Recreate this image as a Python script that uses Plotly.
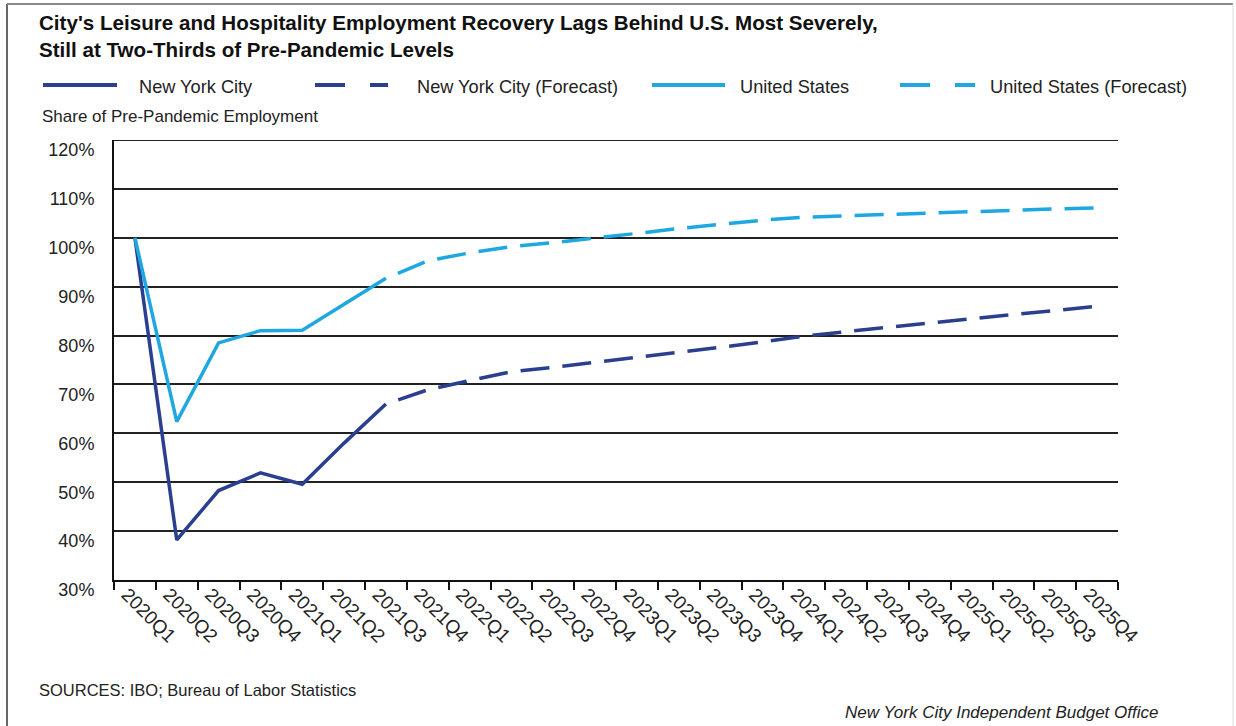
import plotly.graph_objects as go

quarters = ["2020Q1", "2020Q2", "2020Q3", "2020Q4", "2021Q1", "2021Q2", "2021Q3", "2021Q4",
            "2022Q1", "2022Q2", "2022Q3", "2022Q4", "2023Q1", "2023Q2", "2023Q3", "2023Q4",
            "2024Q1", "2024Q2", "2024Q3", "2024Q4", "2025Q1", "2025Q2", "2025Q3", "2025Q4"]

nyc_actual_q = quarters[:7]
nyc_actual = [100, 38.2, 48.3, 51.9, 49.6, 58.0, 66.0]
nyc_forecast_q = quarters[6:]
nyc_forecast = [66.0, 68.9, 70.8, 72.6, 73.5, 74.5, 75.5, 76.5, 77.6, 78.7, 79.9, 80.8,
                81.7, 82.6, 83.4, 84.3, 85.1, 86.0]

us_actual_q = quarters[:7]
us_actual = [100, 62.4, 78.5, 81.0, 81.1, 86.5, 91.7]
us_forecast_q = quarters[6:]
us_forecast = [91.7, 95.3, 96.9, 98.2, 99.0, 99.9, 100.9, 101.9, 102.8, 103.6, 104.2, 104.5,
               104.8, 105.1, 105.4, 105.7, 105.9, 106.1]

y_min, y_max = 30, 120

NYC_COLOR = "#2a3f8f"
US_COLOR = "#1ea7e0"
FONT = "Arial, Liberation Sans, sans-serif"
TXT = "#222222"

W, H = 1236, 726
L, R, T, B = 114, 118, 140, 146
PW, PH = W - L - R, H - T - B


def px(x):
    return (x - L) / PW


def py(y):
    return (H - B - y) / PH


fig = go.Figure()
fig.add_trace(go.Scatter(x=nyc_actual_q, y=nyc_actual, mode="lines",
                         line=dict(color=NYC_COLOR, width=3.5), showlegend=False))
fig.add_trace(go.Scatter(x=nyc_forecast_q, y=nyc_forecast, mode="lines",
                         line=dict(color=NYC_COLOR, width=3.5, dash="0px,13px,29px,0px"),
                         showlegend=False))
fig.add_trace(go.Scatter(x=us_actual_q, y=us_actual, mode="lines",
                         line=dict(color=US_COLOR, width=3.5), showlegend=False))
fig.add_trace(go.Scatter(x=us_forecast_q, y=us_forecast, mode="lines",
                         line=dict(color=US_COLOR, width=3.5, dash="0px,13px,29px,0px"),
                         showlegend=False))

shapes = []
# top gridline at the range end
shapes.append(dict(type="line", xref="paper", yref="y", x0=0, x1=1, y0=y_max, y1=y_max,
                   layer="below", line=dict(color="#222222", width=2)))
# frame
shapes.append(dict(type="line", xref="paper", yref="paper", x0=px(7), x1=px(7), y0=py(4), y1=py(740),
                   line=dict(color="#666666", width=2)))
shapes.append(dict(type="line", xref="paper", yref="paper", x0=px(7), x1=px(1233), y0=py(4), y1=py(4),
                   line=dict(color="#888888", width=2)))
shapes.append(dict(type="line", xref="paper", yref="paper", x0=px(1233), x1=px(1233), y0=py(4), y1=py(740),
                   line=dict(color="#dddddd", width=1)))

# custom legend
legend_items = [
    (43, 117, NYC_COLOR, "solid", 137, "New York City"),
    (315, 388, NYC_COLOR, "30px,25px", 415, "New York City (Forecast)"),
    (652, 725, US_COLOR, "solid", 738, "United States"),
    (900, 975, US_COLOR, "30px,25px", 988, "United States (Forecast)"),
]
annotations = []
for x0, x1, col, dash, tx, label in legend_items:
    shapes.append(dict(type="line", xref="paper", yref="paper", x0=px(x0), x1=px(x1),
                       y0=py(85), y1=py(85), line=dict(color=col, width=4, dash=dash)))
    annotations.append(dict(xref="paper", yref="paper", x=px(tx), y=py(87), xanchor="left",
                            yanchor="middle", showarrow=False, text=label,
                            font=dict(family=FONT, size=18.2, color=TXT)))

annotations += [
    dict(xref="paper", yref="paper", x=px(37), y=py(22), xanchor="left", yanchor="middle",
         showarrow=False,
         text="<b>City's Leisure and Hospitality Employment Recovery Lags Behind U.S. Most Severely,</b>",
         font=dict(family=FONT, size=20.6, color="#111111")),
    dict(xref="paper", yref="paper", x=px(37), y=py(50), xanchor="left", yanchor="middle",
         showarrow=False, text="<b>Still at Two-Thirds of Pre-Pandemic Levels</b>",
         font=dict(family=FONT, size=20.6, color="#111111")),
    dict(xref="paper", yref="paper", x=px(40), y=py(116), xanchor="left", yanchor="middle",
         showarrow=False, text="Share of Pre-Pandemic Employment",
         font=dict(family=FONT, size=17, color=TXT)),
    dict(xref="paper", yref="paper", x=px(37), y=py(690), xanchor="left", yanchor="middle",
         showarrow=False, text="SOURCES: IBO; Bureau of Labor Statistics",
         font=dict(family=FONT, size=16.5, color=TXT)),
    dict(xref="paper", yref="paper", x=px(1160), y=py(712), xanchor="right", yanchor="middle",
         showarrow=False, text="<i>New York City Independent Budget Office</i>",
         font=dict(family=FONT, size=17, color=TXT)),
]

fig.update_layout(
    width=W, height=H,
    margin=dict(l=L, r=R, t=T, b=B),
    paper_bgcolor="white", plot_bgcolor="white",
    shapes=shapes, annotations=annotations,
    showlegend=False,
    xaxis=dict(type="category", categoryorder="array", categoryarray=quarters,
               range=[-0.5, 23.5], showgrid=False, showline=True, linecolor="#111111", linewidth=2,
               ticks="outside", tickson="boundaries", ticklen=8, tickwidth=2, tickcolor="#111111",
               tickangle=45, ticklabelshift=-8, ticklabelstandoff=-6,
               tickfont=dict(family=FONT, size=19, color=TXT), fixedrange=True),
    yaxis=dict(range=[y_min, y_max], dtick=10, tick0=30, ticksuffix="%", showgrid=True,
               gridcolor="#222222", gridwidth=2, showline=True, linecolor="#111111", linewidth=2,
               zeroline=False, ticks="", ticklabelstandoff=14, ticklabelshift=10,
               tickfont=dict(family=FONT, size=18, color=TXT), fixedrange=True),
)

fig.write_html("out.html")
